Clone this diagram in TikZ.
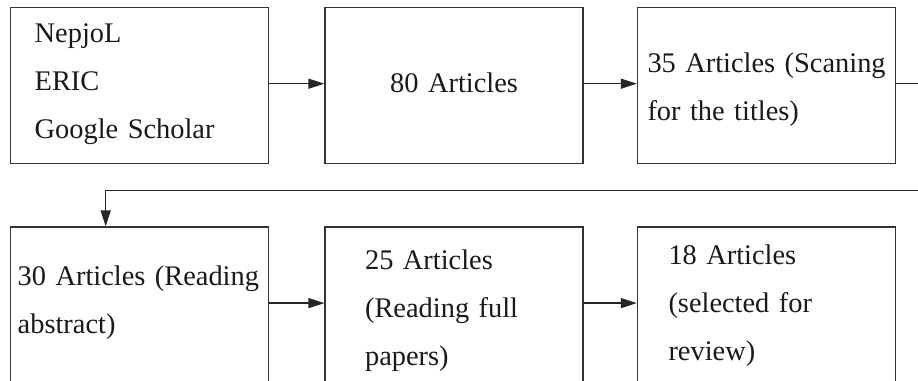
\documentclass[tikz,border=0pt]{standalone}
\usepackage{fontspec}
\setmainfont{Liberation Serif}
\usepackage{tikz}
\usetikzlibrary{arrows.meta, positioning}

\begin{document}
\begin{tikzpicture}[node distance=27pt, >={Triangle[length=8pt,width=5pt]}]
    \tikzstyle{stage} = [rectangle, draw=black!80, line width=0.7pt, text=black!90, inner sep=0pt, text width=129pt, align=left, font=\fontsize{14.2}{24}\selectfont]
    \tikzstyle{flow} = [->, line width=0.7pt, draw=black!85]
    \tikzset{lpad/.style={execute at begin node={\leftskip=#1\relax}}}
    \useasboundingbox (-5pt,3.5pt) rectangle (454pt,-187pt);

    \node [stage, anchor=north west, text height=17.5pt, text depth=60.5pt, lpad=12pt] (sources) at (0,0) {NepjoL\\ERIC\\Google Scholar};
    \node [stage, right=27.5pt of sources, align=center, text height=42.5pt, text depth=35.5pt] (found) {80 Articles};
    \node [stage, right=26.5pt of found, text height=32.5pt, text depth=45.5pt, lpad=5pt] (titles) {35 Articles (Scaning\\for the titles)};

    \node [stage, below=31pt of sources, text height=29pt, text depth=51pt, lpad=3.5pt] (abstract) {30 Articles (Reading\\abstract)};
    \node [stage, right=27.5pt of abstract, text height=21pt, text depth=59pt, lpad=20pt] (fullpaper) {25 Articles\\(Reading full\\papers)};
    \node [stage, right=26.5pt of fullpaper, text height=18.5pt, text depth=61.5pt, lpad=15.5pt] (selected) {18 Articles\\(selected for\\review)};

    \coordinate [below=13pt of titles.south east] (bend);

    \draw [flow] ([yshift=1pt]sources.east) -- ([yshift=1pt]found.west);
    \draw [flow] ([yshift=1pt]found.east) -- ([yshift=1pt]titles.west);
    \draw [flow] ([yshift=1pt]titles.east) -- ++(14pt,0) |- (bend) -| ([xshift=-17pt]abstract.north);
    \draw [flow] ([yshift=2pt]abstract.east) -- ([yshift=2pt]fullpaper.west);
    \draw [flow] ([yshift=2pt]fullpaper.east) -- ([yshift=2pt]selected.west);
\end{tikzpicture}
\end{document}
